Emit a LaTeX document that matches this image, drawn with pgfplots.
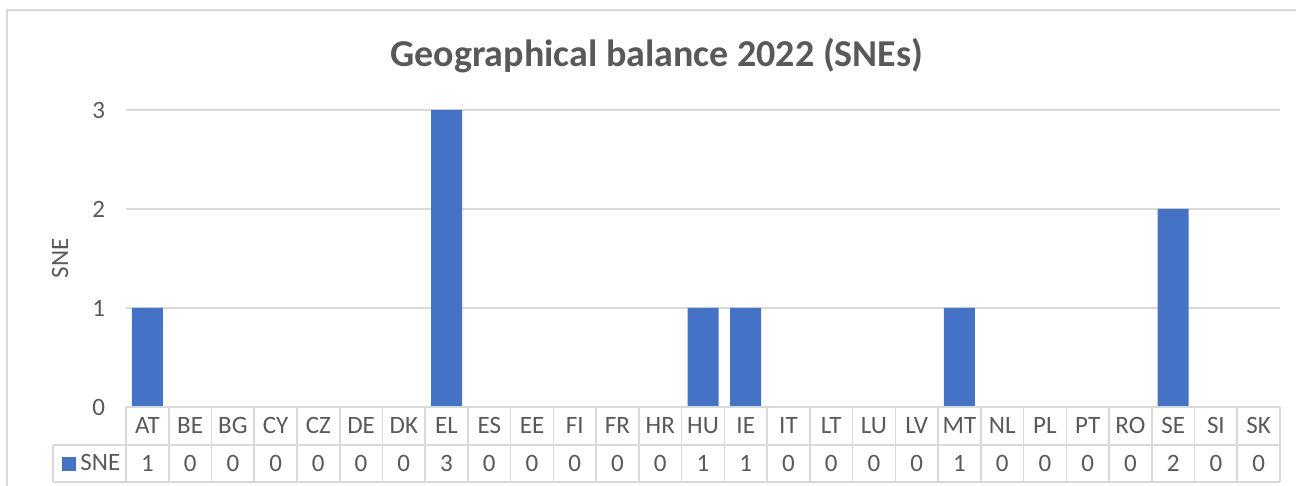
\documentclass[border=0pt]{standalone}
\usepackage{pgfplots}
\pgfplotsset{compat=1.18}
\usepackage{fontspec}
\setmainfont{Carlito}
\definecolor{barblue}{HTML}{4472C4}
\definecolor{txt}{HTML}{595959}
\definecolor{gridc}{HTML}{D9D9D9}
\begin{document}
\begin{tikzpicture}
\useasboundingbox (0,0) rectangle (648pt,243pt);
\draw[gridc, line width=0.8pt] (3.5pt,-5pt) -- (3.5pt,238pt) -- (660pt,238pt);
\begin{axis}[
  at={(63pt,39.5pt)}, anchor=south west,
  width=577pt, height=148.5pt, scale only axis,
  clip=false,
  xmin=-0.5, xmax=26.5, ymin=0, ymax=3,
  axis line style={draw=none},
  tick style={draw=none},
  ymajorgrids, grid style={gridc, line width=0.8pt},
  ytick={0,1,2,3},
  yticklabel style={font=\fontsize{12.5}{15}\selectfont, text=txt, xshift=-7pt},
  /pgf/number format/assume math mode=true,
  ylabel={SNE},
  ylabel style={at={(axis description cs:-0.0572,0.5)}, anchor=center, rotate=0, font=\fontsize{12.5}{15}\selectfont, text=txt},
  title={Geographical balance 2022 (SNEs)},
  title style={at={(axis description cs:0.46,1.142)}, anchor=center, font=\fontsize{19}{22}\selectfont\bfseries, text=txt},
  xtick={0,...,26},
  xticklabels={{AT\\1},{BE\\0},{BG\\0},{CY\\0},{CZ\\0},{DE\\0},{DK\\0},{EL\\3},{ES\\0},{EE\\0},{FI\\0},{FR\\0},{HR\\0},{HU\\1},{IE\\1},{IT\\0},{LT\\0},{LU\\0},{LV\\0},{MT\\1},{NL\\0},{PL\\0},{PT\\0},{RO\\0},{SE\\2},{SI\\0},{SK\\0}},
  xticklabel style={font=\fontsize{12.5}{19}\selectfont, text=txt, align=center, anchor=north, inner sep=0pt, yshift=-5pt},
]
\addplot[ybar, bar width=15.5pt, fill=barblue, draw=none] coordinates {
 (0,1) (1,0) (2,0) (3,0) (4,0) (5,0) (6,0) (7,3) (8,0) (9,0) (10,0) (11,0) (12,0)
 (13,1) (14,1) (15,0) (16,0) (17,0) (18,0) (19,1) (20,0) (21,0) (22,0) (23,0)
 (24,2) (25,0) (26,0)};
% data table grid
\draw[gridc, line width=0.8pt] (axis cs:-0.5,0) -- (axis cs:26.5,0);
\draw[gridc, line width=0.8pt] (axis cs:-2.21,-0.384) -- (axis cs:26.5,-0.384);
\draw[gridc, line width=0.8pt] (axis cs:-2.21,-0.758) -- (axis cs:26.5,-0.758);
\draw[gridc, line width=0.8pt] (axis cs:-2.21,-0.384) -- (axis cs:-2.21,-0.758);
\pgfplotsinvokeforeach{0,...,27}{
  \draw[gridc, line width=0.8pt] (axis cs:#1-0.5,0) -- (axis cs:#1-0.5,-0.758);
}
\node[anchor=base west, inner sep=0pt, font=\fontsize{12.5}{15}\selectfont, text=txt]
  at (axis cs:-2.0,-0.643) {\textcolor{barblue}{\rule{7pt}{7pt}}\,SNE};
\end{axis}
\end{tikzpicture}
\end{document}
